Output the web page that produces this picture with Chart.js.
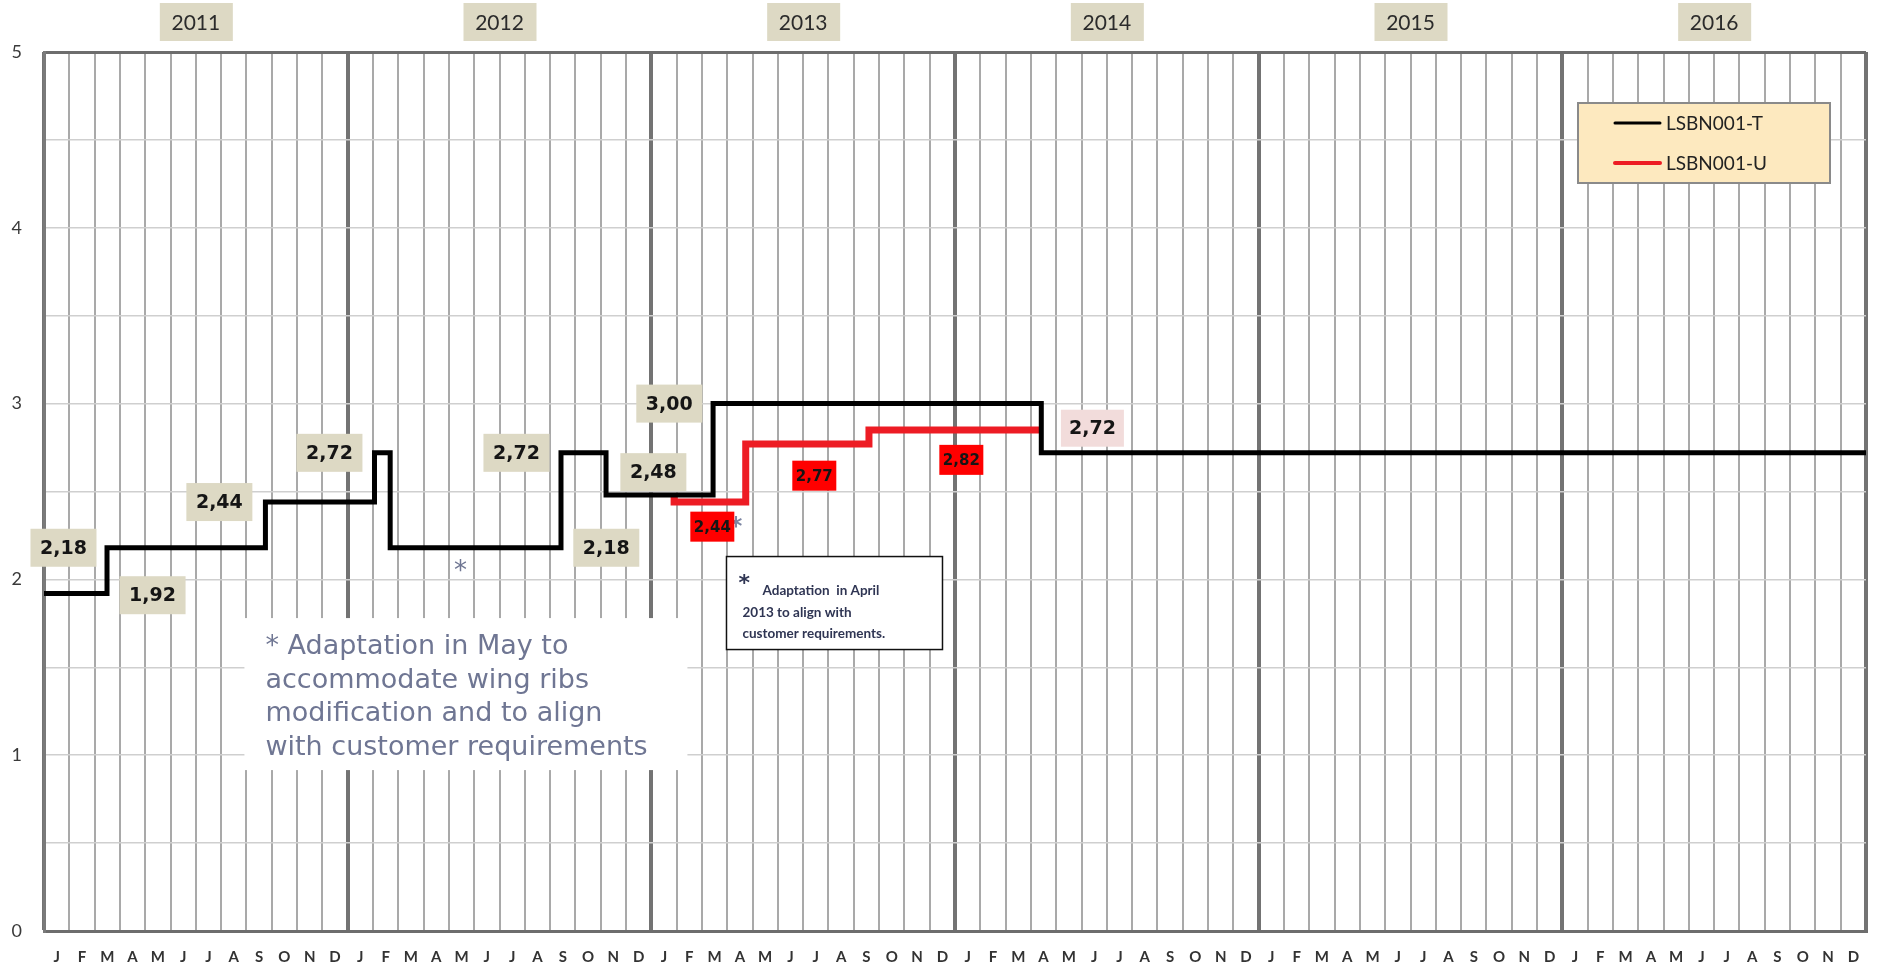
<!DOCTYPE html>
<html>
<head>
<meta charset="utf-8">
<script src="https://cdn.jsdelivr.net/npm/chart.js@4.4.1/dist/chart.umd.min.js"></script>
<style>
  body { margin: 0; background: #fff; }
  #wrap { width: 1884px; height: 966px; position: relative; }
</style>
</head>
<body>
<div id="wrap"><canvas id="chart"></canvas></div>
<script>
// month letters under the x axis, years in the boxes on top
const months = ["J", "F", "M", "A", "M", "J", "J", "A", "S", "O", "N", "D"];
const years = ["2011", "2012", "2013", "2014", "2015", "2016"];

// LSBN001-T : month (from Jan 2011) where the value changes, and the new value
const tMonth = [0, 2.49, 8.75, 13.06, 13.68, 20.43, 22.21, 26.44, 39.41, 72];
const tValue = [1.92, 2.18, 2.44, 2.72, 2.18, 2.72, 2.48, 3.0, 2.72, 2.72];

// LSBN001-U
const uMonth = [24.9, 24.9, 27.73, 32.6, 39.41];
const uValue = [2.48, 2.44, 2.77, 2.85, 2.85];

// value tags (text, where they sit in month / value units, which kind)
const tagText = ["2,18", "1,92", "2,44", "2,72", "2,72", "2,18", "2,48", "3,00", "2,44", "2,77", "2,82", "2,72"];
const tagMonth = [0.77, 4.29, 6.93, 11.28, 18.67, 22.22, 24.08, 24.71, 26.41, 30.44, 36.25, 41.43];
const tagValue = [2.18, 1.91, 2.44, 2.72, 2.72, 2.18, 2.61, 3.0, 2.30, 2.59, 2.68, 2.86];
const tagKind = ["T", "T", "T", "T", "T", "T", "T", "T", "U", "U", "U", "E"];

const seriesNames = ["LSBN001-T", "LSBN001-U"];

const noteMay = ["* Adaptation in May to", "accommodate wing ribs", "modification and to align", "with customer requirements"];
const noteApril = ["Adaptation  in April", "2013 to align with", "customer requirements."];

const toPoints = (xs, ys) => xs.map((x, i) => ({ x: x, y: ys[i] }));

// styles for each tag kind
const tagStyle = {
  T: { bg: "#DDD9C4", w: 66, h: 38, font: "bold 19px 'DejaVu Sans'" },
  U: { bg: "#FF0000", w: 44, h: 30, font: "bold 15px 'DejaVu Sans'" },
  E: { bg: "#F2DCDB", w: 63, h: 37, font: "bold 19px 'DejaVu Sans'" },
};

// draws year boxes, notes, tags and legend on top of the chart
const overlay = {
  id: "overlay",
  afterDraw(chart) {
    const ctx = chart.ctx;
    const xs = chart.scales.x;
    const ys = chart.scales.y;
    ctx.save();

    // year boxes
    years.forEach((yr, i) => {
      const cx = xs.getPixelForValue(6 + 12 * i);
      ctx.fillStyle = "#DDD9C4";
      ctx.fillRect(cx - 36, 3, 73, 38);
      ctx.fillStyle = "#2b2b2b";
      ctx.font = "21px Lato";
      ctx.textAlign = "center";
      ctx.textBaseline = "middle";
      ctx.fillText(yr, cx, 23);
    });

    // May note (white patch over the grid)
    const mx = xs.getPixelForValue(7.92);
    const my = ys.getPixelForValue(1.78);
    ctx.fillStyle = "#fff";
    ctx.fillRect(mx, my, 443, 152);
    ctx.fillStyle = "#6F7693";
    ctx.font = "27px 'DejaVu Sans'";
    ctx.textAlign = "left";
    ctx.textBaseline = "alphabetic";
    noteMay.forEach((line, i) => ctx.fillText(line, mx + 21, my + 36 + i * 33.5));
    ctx.font = "26px 'DejaVu Sans'";
    ctx.fillText("*", xs.getPixelForValue(16.2), ys.getPixelForValue(2.0));

    // April note box
    const ax = xs.getPixelForValue(26.97);
    const ay = ys.getPixelForValue(2.13);
    ctx.fillStyle = "#fff";
    ctx.fillRect(ax, ay, 216, 93);
    ctx.strokeStyle = "#111";
    ctx.lineWidth = 1.5;
    ctx.strokeRect(ax, ay, 216, 93);
    ctx.fillStyle = "#2F3553";
    ctx.font = "bold 22px 'DejaVu Sans'";
    ctx.fillText("*", ax + 12, ay + 33);
    ctx.font = "bold 13.5px Lato";
    ctx.fillText(noteApril[0], ax + 36, ay + 38);
    ctx.fillText(noteApril[1], ax + 16, ay + 60);
    ctx.fillText(noteApril[2], ax + 16, ay + 81);

    // asterisk next to the red 2,44
    ctx.fillStyle = "#7D86A3";
    ctx.font = "bold 24px 'DejaVu Sans'";
    ctx.fillText("*", xs.getPixelForValue(27.1), ys.getPixelForValue(2.26));

    // value tags
    ctx.textAlign = "center";
    ctx.textBaseline = "middle";
    tagText.forEach((txt, i) => {
      const st = tagStyle[tagKind[i]];
      const px = xs.getPixelForValue(tagMonth[i]);
      const py = ys.getPixelForValue(tagValue[i]);
      ctx.fillStyle = st.bg;
      ctx.fillRect(px - st.w / 2, py - st.h / 2, st.w, st.h);
      ctx.fillStyle = "#151515";
      ctx.font = st.font;
      ctx.fillText(txt, px, py + 1);
    });

    // legend box
    const lx = 1578, ly = 103;
    ctx.fillStyle = "#FDE9BF";
    ctx.fillRect(lx, ly, 252, 80);
    ctx.strokeStyle = "#8a8a8a";
    ctx.lineWidth = 2;
    ctx.strokeRect(lx, ly, 252, 80);
    chart.data.datasets.forEach((ds, i) => {
      const yy = ly + 20 + i * 40;
      ctx.strokeStyle = ds.borderColor;
      ctx.lineWidth = i === 0 ? 3 : 4;
      ctx.lineCap = "round";
      ctx.beginPath();
      ctx.moveTo(lx + 37, yy);
      ctx.lineTo(lx + 82, yy);
      ctx.stroke();
      ctx.fillStyle = "#222";
      ctx.font = "19px Lato";
      ctx.textAlign = "left";
      ctx.fillText(ds.label, lx + 88, yy + 1);
    });

    ctx.restore();
  },
};

new Chart(document.querySelector("#chart"), {
  type: "line",
  data: {
    datasets: [
      {
        label: seriesNames[0],
        data: toPoints(tMonth, tValue),
        borderColor: "#000000",
        borderWidth: 5,
        stepped: "before",
        pointRadius: 0,
        borderCapStyle: "butt",
        borderJoinStyle: "miter",
      },
      {
        label: seriesNames[1],
        data: toPoints(uMonth, uValue),
        borderColor: "#ED1C24",
        borderWidth: 7,
        stepped: "before",
        pointRadius: 0,
        borderCapStyle: "butt",
        borderJoinStyle: "miter",
      },
    ],
  },
  options: {
    responsive: true,
    maintainAspectRatio: false,
    animation: false,
    layout: { padding: { top: 52, right: 18, left: 0, bottom: 0 } },
    plugins: {
      legend: { display: false },
      tooltip: { enabled: false },
    },
    scales: {
      x: {
        type: "linear",
        min: 0,
        max: 72,
        afterBuildTicks: (axis) => {
          axis.ticks = Array.from({ length: 73 }, (_, i) => ({ value: i }));
        },
        afterFit: (axis) => {
          axis.height = 35;
        },
        grid: {
          drawTicks: false,
          color: (c) => (c.tick && c.tick.value % 12 === 0 ? "#737373" : "#a9a9a9"),
          lineWidth: (c) => (c.tick && c.tick.value % 12 === 0 ? 4 : 2),
        },
        border: { color: "#6d6d6d", width: 3 },
        ticks: {
          autoSkip: false,
          maxRotation: 0,
          padding: 17,
          labelOffset: 12.65,
          color: "#333",
          font: { family: "Lato", size: 15, weight: "bold" },
          callback: (v) => (v < 72 ? months[v % 12] : ""),
        },
      },
      y: {
        min: 0,
        max: 5,
        afterFit: (axis) => {
          axis.width = 44;
        },
        grid: {
          drawTicks: false,
          color: (c) => (c.tick && (c.tick.value === 5 || c.tick.value === 0) ? "#6d6d6d" : "#cfcfcf"),
          lineWidth: (c) => (c.tick && (c.tick.value === 5 || c.tick.value === 0) ? 3 : 1.5),
        },
        border: { color: "#7a7a7a", width: 3 },
        ticks: {
          stepSize: 0.5,
          padding: 22,
          color: "#3a3a3a",
          font: { family: "Lato", size: 18 },
          callback: (v) => (Number.isInteger(v) ? v : ""),
        },
      },
    },
  },
  plugins: [overlay],
});
</script>
</body>
</html>
